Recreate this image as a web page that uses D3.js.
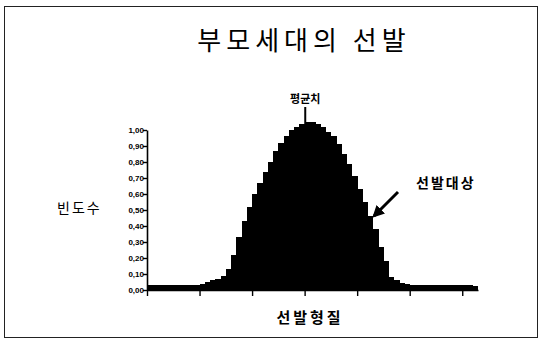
<!DOCTYPE html>
<html>
<head>
<meta charset="utf-8">
<script src="https://cdn.jsdelivr.net/npm/d3@7/dist/d3.min.js"></script>
<style>
  html, body { margin: 0; padding: 0; background: #fff; }
  svg { display: block; }
  text { font-family: "Noto Sans CJK KR", "Noto Sans", sans-serif; fill: #000; }
  .tick text { font-family: "Liberation Sans", Arial, sans-serif; font-weight: bold; }
</style>
</head>
<body>
<svg id="chart" width="542" height="340"></svg>
<script>
// Frequency of the trait in the parent generation, one value per class interval
const bins = d3.range(1, 64);
const frequency = [
  0.030, 0.029, 0.031, 0.030, 0.029, 0.030, 0.031, 0.030, 0.031, 0.034,
  0.040, 0.050, 0.060, 0.070, 0.090, 0.130, 0.220, 0.330, 0.430, 0.520,
  0.600, 0.670, 0.740, 0.800, 0.870, 0.920, 0.960, 1.000, 1.020, 1.040,
  1.050, 1.050, 1.040, 1.020, 0.990, 0.960, 0.910, 0.850, 0.790, 0.710,
  0.630, 0.550, 0.460, 0.380, 0.270, 0.180, 0.080, 0.060, 0.045, 0.035,
  0.031, 0.030, 0.029, 0.030, 0.031, 0.030, 0.029, 0.030, 0.031, 0.030,
  0.029, 0.030, 0.028
];
const yTicks = [0, 0.1, 0.2, 0.3, 0.4, 0.5, 0.6, 0.7, 0.8, 0.9, 1.0];
const xTickBins = [0, 10, 20, 30, 40, 50, 60];
const meanBin = 31;

const title = "부모세대의 선발";
const yTitle = "빈도수";
const xTitle = "선발형질";
const meanLabel = "평균치";
const selectLabel = "선발대상";

const svg = d3.select("#chart");
const plotLeft = 147, plotRight = 478, plotTop = 130, plotBottom = 290;

// frame
svg.append("rect")
  .attr("x", 4.5).attr("y", 6.5)
  .attr("width", 533).attr("height", 331)
  .attr("fill", "none").attr("stroke", "#222").attr("stroke-width", 1);

const x = d3.scaleBand().domain(bins).range([plotLeft, plotRight]).padding(0);
const xEdge = d3.scaleLinear().domain([0, bins.length]).range([plotLeft, plotRight]);
const y = d3.scaleLinear().domain([0, 1]).range([plotBottom, plotTop]);

// histogram bars
svg.append("g")
  .attr("shape-rendering", "crispEdges")
  .selectAll("rect")
  .data(frequency)
  .join("rect")
  .attr("x", (d, i) => x(bins[i]))
  .attr("y", d => y(d))
  .attr("width", x.bandwidth() + 0.4)
  .attr("height", d => y(0) - y(d))
  .attr("fill", "#000");

// axes
const yAxis = d3.axisLeft(y)
  .tickValues(yTicks)
  .tickSize(4)
  .tickSizeOuter(0)
  .tickFormat(d => d3.format(".2f")(d).replace(".", ","));
const gy = svg.append("g").attr("transform", `translate(${plotLeft},0)`).call(yAxis);
gy.select(".domain").attr("stroke", "#000").attr("stroke-width", 1.6);
gy.selectAll(".tick line").attr("stroke", "#000").attr("stroke-width", 1.4);
gy.selectAll(".tick text").attr("font-size", 8).attr("x", -3).attr("dy", "0.35em");

const xAxis = d3.axisBottom(xEdge)
  .tickValues(xTickBins)
  .tickSize(6)
  .tickSizeOuter(0)
  .tickFormat("");
const gx = svg.append("g").attr("transform", `translate(0,${plotBottom})`).call(xAxis);
gx.select(".domain").attr("stroke", "#000").attr("stroke-width", 1.6);
gx.selectAll(".tick line").attr("stroke", "#000").attr("stroke-width", 1.4);

// mean marker
const meanX = x(bins[meanBin - 1]) + x.bandwidth() / 2 - 2;
svg.append("line")
  .attr("x1", meanX).attr("x2", meanX)
  .attr("y1", 107).attr("y2", y(frequency[meanBin - 1]) + 2)
  .attr("stroke", "#000").attr("stroke-width", 2);
svg.append("text")
  .attr("x", meanX).attr("y", 103)
  .attr("text-anchor", "middle")
  .attr("font-size", 11).attr("font-weight", "bold")
  .text(meanLabel);

// selection arrow
svg.append("defs").append("marker")
  .attr("id", "head")
  .attr("viewBox", "0 0 10 10")
  .attr("refX", 8).attr("refY", 5)
  .attr("markerWidth", 4).attr("markerHeight", 4)
  .attr("orient", "auto")
  .append("path").attr("d", "M0,0 L10,5 L0,10 z").attr("fill", "#000");
svg.append("line")
  .attr("x1", 398).attr("y1", 192)
  .attr("x2", 374).attr("y2", 216)
  .attr("stroke", "#000").attr("stroke-width", 3)
  .attr("marker-end", "url(#head)");
svg.append("text")
  .attr("x", 416).attr("y", 188)
  .attr("font-size", 14).attr("font-weight", "bold")
  .attr("letter-spacing", 2)
  .text(selectLabel);

// titles
svg.append("text")
  .attr("x", 304).attr("y", 50)
  .attr("text-anchor", "middle")
  .attr("font-size", 26).attr("font-weight", 400)
  .attr("letter-spacing", 5)
  .text(title);
svg.append("text")
  .attr("x", 57).attr("y", 213)
  .attr("font-size", 14)
  .attr("letter-spacing", 2)
  .text(yTitle);
svg.append("text")
  .attr("x", 310).attr("y", 323)
  .attr("text-anchor", "middle")
  .attr("font-size", 15).attr("font-weight", "bold")
  .attr("letter-spacing", 3)
  .text(xTitle);
</script>
</body>
</html>
